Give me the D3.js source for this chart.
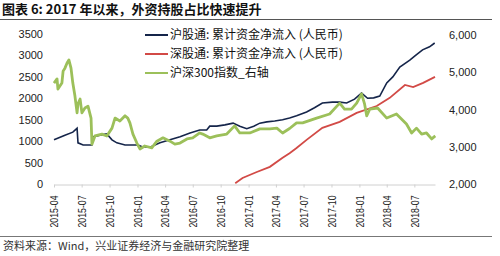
<!DOCTYPE html>
<html>
<head>
<meta charset="utf-8">
<script src="https://cdn.jsdelivr.net/npm/d3@7"></script>
<style>
  body { margin: 0; background: #fff; }
  svg { display: block; }
  .axis text { font-family: "Liberation Sans", Arial, sans-serif; fill: #222; }
</style>
</head>
<body>
<div id="chart"></div>
<script>
// 沪股通 累计资金净流入 (left axis)
const hsDates = ['2015-04-01','2015-05-07','2015-06-02','2015-06-16','2015-06-19','2015-07-06','2015-08-04','2015-08-07','2015-08-30','2015-09-22','2015-10-09','2015-10-25','2015-11-21','2016-01-03','2016-01-16','2016-02-11','2016-03-15','2016-04-17','2016-05-20','2016-06-22','2016-07-24','2016-08-16','2016-08-26','2016-09-18','2016-10-15','2016-11-11','2016-12-03','2016-12-26','2017-01-18','2017-02-07','2017-03-02','2017-03-28','2017-04-23','2017-05-16','2017-06-08','2017-07-11','2017-08-06','2017-09-01','2017-10-04','2017-10-28','2017-11-20','2017-12-16','2018-01-08','2018-01-28','2018-02-17','2018-03-09','2018-04-01','2018-04-21','2018-05-14','2018-06-16','2018-07-05','2018-07-28','2018-08-20','2018-09-06'];
const hsValues = [1030,1140,1210,1300,960,910,910,1100,1140,1170,1030,960,910,910,870,860,960,1030,1100,1190,1260,1260,1350,1350,1380,1420,1350,1290,1350,1420,1450,1470,1500,1540,1590,1680,1780,1890,1910,1910,1890,1980,2120,2000,2010,2050,2360,2500,2730,2890,3000,3130,3200,3290];

// 深股通 累计资金净流入 (left axis)
const szDates = ['2016-11-18','2016-12-12','2017-01-28','2017-03-12','2017-04-23','2017-05-16','2017-06-08','2017-07-11','2017-09-01','2017-10-28','2017-12-23','2018-02-27','2018-04-11','2018-05-31','2018-06-27','2018-07-30','2018-09-07'];
const szValues = [20,140,280,400,610,720,840,1030,1310,1450,1660,1820,2010,2310,2260,2360,2500];

// 沪深300指数 (right axis)
const csiDates = ['2015-04-01','2015-04-11','2015-04-14','2015-04-27','2015-05-01','2015-05-07','2015-05-14','2015-05-20','2015-05-27','2015-06-02','2015-06-09','2015-06-16','2015-06-19','2015-06-26','2015-07-02','2015-07-12','2015-07-22','2015-08-01','2015-08-04','2015-08-14','2015-09-06','2015-09-22','2015-10-09','2015-10-19','2015-11-04','2015-11-21','2015-11-30','2015-12-07','2015-12-17','2015-12-30','2016-01-09','2016-01-25','2016-02-17','2016-03-05','2016-03-25','2016-04-17','2016-05-03','2016-05-20','2016-06-12','2016-07-01','2016-07-24','2016-08-03','2016-08-26','2016-09-18','2016-10-21','2016-11-16','2016-12-03','2017-01-05','2017-02-07','2017-03-12','2017-04-04','2017-04-23','2017-05-16','2017-06-08','2017-06-28','2017-08-13','2017-09-25','2017-10-28','2017-11-13','2017-12-06','2017-12-23','2018-01-08','2018-01-18','2018-01-25','2018-02-04','2018-03-02','2018-04-01','2018-05-03','2018-06-05','2018-06-22','2018-07-08','2018-07-25','2018-08-10','2018-08-27','2018-09-08'];
const csiValues = [4710,4820,4550,4710,5030,5110,5250,5330,5110,4710,4360,3910,4150,4280,3910,4040,4090,3770,3070,3290,3340,3290,3500,3770,3690,3830,3770,3640,3340,3100,2940,3020,2970,3150,3240,3150,3070,3100,3210,3240,3370,3340,3240,3290,3340,3560,3370,3370,3480,3480,3500,3370,3490,3640,3640,3770,3880,4170,4010,4010,4170,4420,4150,3830,4010,4040,3770,3880,3610,3370,3500,3340,3370,3210,3290];

const leftTicks = [0,500,1000,1500,2000,2500,3000,3500];
const rightTicks = [2000,3000,4000,5000,6000];
const xTickLabels = ['2015-04','2015-07','2015-10','2016-01','2016-04','2016-07','2016-10','2017-01','2017-04','2017-07','2017-10','2018-01','2018-04','2018-07'];

const seriesNames = ['沪股通: 累计资金净流入 (人民币)','深股通: 累计资金净流入 (人民币)','沪深300指数_右轴'];
const seriesColors = ['#15254a','#d24a46','#9cc05a'];

const width = 500, height = 256;
const parse = d3.timeParse('%Y-%m-%d');
const parseMonth = d3.timeParse('%Y-%m');

const svg = d3.select('#chart').append('svg')
  .attr('width', width)
  .attr('height', height);

// title + rules
svg.append('text')
  .attr('x', 2).attr('y', 14)
  .style('font-family', '"Noto Sans CJK SC", sans-serif')
  .style('font-size', '13px').style('font-weight', 'bold')
  .style('fill', '#111')
  .text('图表 6: 2017 年以来，外资持股占比快速提升');
svg.append('line').attr('x1', 0).attr('x2', 492).attr('y1', 19.5).attr('y2', 19.5)
  .attr('stroke', '#555').attr('stroke-width', 1);
svg.append('line').attr('x1', 0).attr('x2', 492).attr('y1', 236.5).attr('y2', 236.5)
  .attr('stroke', '#777').attr('stroke-width', 1);
svg.append('text')
  .attr('x', 3).attr('y', 250)
  .style('font-family', '"Noto Sans CJK SC", sans-serif')
  .style('font-size', '11px').style('fill', '#333')
  .text('资料来源：Wind，兴业证券经济与金融研究院整理');

// scales
const x = d3.scaleTime()
  .domain([parse('2015-04-01'), parse('2018-09-07')])
  .range([54, 435]);
const yL = d3.scaleLinear().domain([0, 3500]).range([184, 34]);
const yR = d3.scaleLinear().domain([2000, 6000]).range([184, 35]);

// axes
const xAxis = d3.axisBottom(x)
  .tickValues(xTickLabels.map(parseMonth))
  .tickFormat(d3.timeFormat('%Y-%m'))
  .tickSize(3).tickSizeOuter(0);
const gx = svg.append('g').attr('class', 'axis')
  .attr('transform', 'translate(0,184.5)')
  .call(xAxis);
gx.select('.domain').attr('stroke', '#d0d0d0');
gx.selectAll('.tick line').attr('stroke', '#d0d0d0');
gx.selectAll('text')
  .attr('transform', 'rotate(-90)')
  .attr('x', -11).attr('y', 0).attr('dy', '0.35em')
  .style('text-anchor', 'end')
  .style('font-size', '11px')
  .attr('textLength', 32).attr('lengthAdjust', 'spacingAndGlyphs');

const gl = svg.append('g').attr('class', 'axis')
  .attr('transform', 'translate(46,0)')
  .call(d3.axisLeft(yL).tickValues(leftTicks).tickFormat(d3.format('d')).tickSize(0).tickPadding(3));
gl.select('.domain').remove();
gl.selectAll('text').style('font-size', '11px');

const gr = svg.append('g').attr('class', 'axis')
  .attr('transform', 'translate(446,0)')
  .call(d3.axisRight(yR).tickValues(rightTicks).tickFormat(d3.format(',')).tickSize(0).tickPadding(3));
gr.select('.domain').remove();
gr.selectAll('text').style('font-size', '11px');

// lines
const lineL = d3.line().x(d => x(d[0])).y(d => yL(d[1]));
const lineR = d3.line().x(d => x(d[0])).y(d => yR(d[1]));

const zipData = (dates, vals) => dates.map((d, i) => [parse(d), vals[i]]);

svg.append('path')
  .datum(zipData(hsDates, hsValues))
  .attr('fill', 'none').attr('stroke', seriesColors[0]).attr('stroke-width', 1.6)
  .attr('d', lineL);

svg.append('path')
  .datum(zipData(szDates, szValues))
  .attr('fill', 'none').attr('stroke', seriesColors[1]).attr('stroke-width', 1.8)
  .attr('d', lineL);

svg.append('path')
  .datum(zipData(csiDates, csiValues))
  .attr('fill', 'none').attr('stroke', seriesColors[2]).attr('stroke-width', 2.8)
  .attr('stroke-linejoin', 'round')
  .attr('d', lineR);

// legend
const legend = svg.append('g').attr('transform', 'translate(145,35)');
seriesNames.forEach((name, i) => {
  const row = legend.append('g').attr('transform', `translate(0,${i * 19})`);
  row.append('line').attr('x1', 0).attr('x2', 23).attr('y1', 0).attr('y2', 0)
    .attr('stroke', seriesColors[i]).attr('stroke-width', 2);
  row.append('text').attr('x', 25).attr('y', 0).attr('dy', '0.35em')
    .style('font-family', '"Noto Sans CJK SC", sans-serif')
    .style('font-size', '12px').style('fill', '#111')
    .text(name);
});
</script>
</body>
</html>
